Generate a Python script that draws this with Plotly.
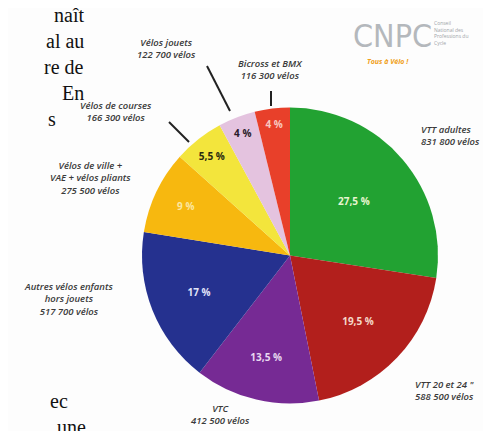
import plotly.graph_objects as go

categories = ["VTT adultes", "VTT 20 et 24 \"", "VTC", "Autres vélos enfants hors jouets",
              "Vélos de ville + VAE + vélos pliants", "Vélos de courses", "Vélos jouets", "Bicross et BMX"]
units = [831800, 588500, 412500, 517700, 275500, 166300, 122700, 116300]
pct_labels = ["27,5 %", "19,5 %", "13,5 %", "17 %", "9 %", "5,5 %", "4 %", "4 %"]
colors = ["#22a232", "#b21f1c", "#762a94", "#25318f", "#f7b80f", "#f3e53c", "#e4c3df", "#e8402a"]
text_colors = ["#e8f5d0", "#f4d8c8", "#e8d8f0", "#e0e4f8", "#fbe7a0", "#2a2a10", "#2a1a2a", "#f8c8c0"]

ext_labels = [
    ("VTT adultes<br>831 800 vélos", 411, 127, "left"),
    ("VTT 20 et 24 \"<br>588 500 vélos", 405, 382, "left"),
    ("VTC<br>412 500 vélos", 212, 406, "center"),
    ("Autres vélos enfants<br>hors jouets<br>517 700 vélos", 60, 291, "center"),
    ("Vélos de ville +<br>VAE + vélos pliants<br>275 500 vélos", 82, 170, "center"),
    ("Vélos de courses<br>166 300 vélos", 108, 103, "center"),
    ("Vélos jouets<br>122 700 vélos", 158, 41, "center"),
    ("Bicross et BMX<br>116 300 vélos", 262, 61, "center"),
]
leaders = [((199, 58), (222, 103)), ((161, 114), (181, 134)), ((263, 83), (263, 98))]

page_lines_top = ["naît", "al au", "re de", "En", "s"]
page_lines_bottom = ["ec", "une"]

W, H = 491, 431
fig = go.Figure()
fig.add_trace(go.Pie(
    labels=categories, values=units, text=pct_labels,
    sort=False, direction="clockwise", rotation=0,
    marker=dict(colors=colors, line=dict(width=0)),
    textinfo="text", textposition="inside", insidetextorientation="horizontal",
    textfont=dict(color=text_colors, size=10, family="Open Sans", weight=700),
    hoverinfo="label+value",
    domain=dict(x=[134 / W, 430 / W], y=[1 - 396 / H, 1 - 99 / H]),
    showlegend=False,
))

lab_font = dict(family="Open Sans", size=9.5, color="#3a3a3a", style="italic", weight=600)
ann = []
for txt, x, y, al in ext_labels:
    ann.append(dict(x=x / W, y=1 - y / H, xref="paper", yref="paper", text=txt, showarrow=False,
                    xanchor=al, yanchor="middle", align=al, font=lab_font))
top_right = [78, 78, 78, 78, 50]
for i, t in enumerate(page_lines_top):
    ann.append(dict(x=top_right[i] / W, y=1 - (7 + 26 * i) / H, xref="paper", yref="paper", text=t,
                    showarrow=False, xanchor="right", yanchor="middle",
                    font=dict(family="Liberation Serif", size=20, color="#111111")))
bottom_right = [62, 80]
for i, t in enumerate(page_lines_bottom):
    ann.append(dict(x=bottom_right[i] / W, y=1 - (393 + 26 * i) / H, xref="paper", yref="paper", text=t,
                    showarrow=False, xanchor="right", yanchor="middle",
                    font=dict(family="Liberation Serif", size=20, color="#111111")))
# logo
ann.append(dict(x=384 / W, y=1 - 28 / H, xref="paper", yref="paper", text="CNPC", showarrow=False,
                xanchor="center", yanchor="middle",
                font=dict(family="DejaVu Sans Condensed, Roboto, sans-serif", size=32, color="#b4b8bc")))
ann.append(dict(x=424 / W, y=1 - 25 / H, xref="paper", yref="paper",
                text="Conseil<br>National des<br>Professions du<br>Cycle", showarrow=False,
                xanchor="left", yanchor="middle", align="left",
                font=dict(family="Open Sans", size=5, color="#a0a4a8")))
ann.append(dict(x=380 / W, y=1 - 53 / H, xref="paper", yref="paper", text="Tous à Vélo !", showarrow=False,
                xanchor="center", yanchor="middle",
                font=dict(family="Open Sans", size=7, color="#f0a020", style="italic", weight=700)))

shapes = []
for (x0, y0), (x1, y1) in leaders:
    shapes.append(dict(type="line", xref="paper", yref="paper", x0=x0 / W, y0=1 - y0 / H, x1=x1 / W, y1=1 - y1 / H,
                       line=dict(color="#222222", width=2)))

fig.update_layout(width=W, height=H, margin=dict(l=0, r=0, t=0, b=0),
                  paper_bgcolor="#fdfdfd", plot_bgcolor="#fdfdfd",
                  annotations=ann, shapes=shapes)
fig.write_html("out.html")
